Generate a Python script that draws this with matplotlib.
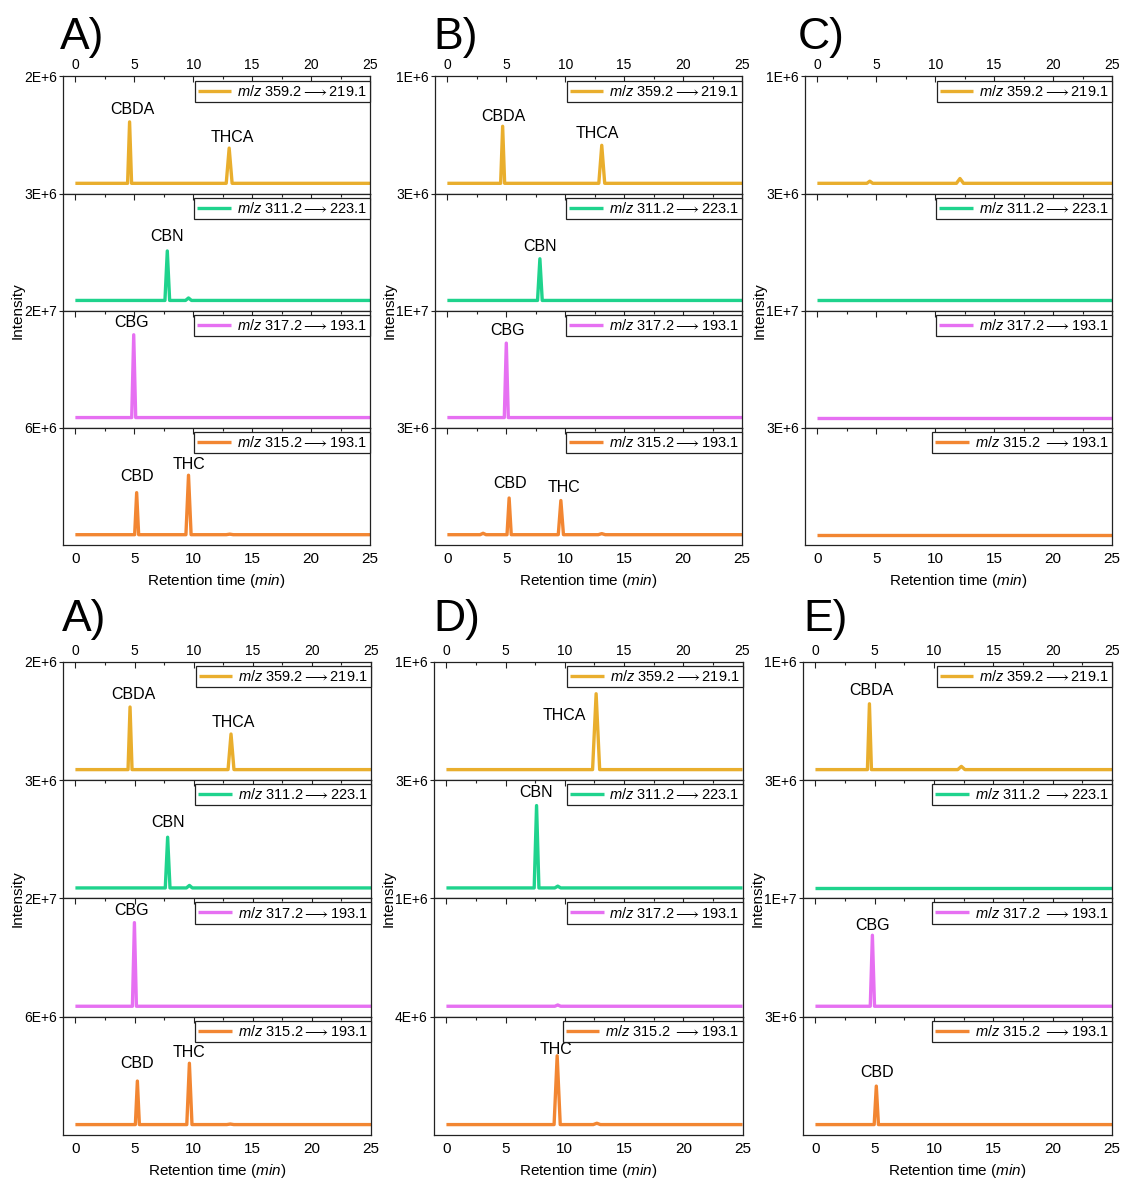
import matplotlib
matplotlib.use("Agg")
import matplotlib.pyplot as plt
from matplotlib.ticker import MultipleLocator

plt.rcParams.update({
    'font.family': ['Liberation Sans', 'DejaVu Sans'],
    'mathtext.fontset': 'custom',
    'mathtext.rm': 'Liberation Sans',
    'mathtext.it': 'Liberation Sans:italic',
    'mathtext.fallback': 'stixsans',
})

W, H = 1122, 1180
LINE_W = 2.4
EDGE = '#222222'

CHANNEL_COLORS = ['#E9AE2D', '#1FD38D', '#E670F2', '#F28632']
PRECURSORS = ['359.2', '311.2', '317.2', '315.2']
PRODUCTS = ['219.1', '223.1', '193.1', '193.1']

PANEL_NAMES = ['A)', 'B)', 'C)', 'A)', 'D)', 'E)']

# full scale of every trace (top of each stacked axis)
Y_TOPS = [
    [2e6, 3e6, 2e7, 6e6],
    [1e6, 3e6, 1e7, 3e6],
    [1e6, 3e6, 1e7, 3e6],
    [2e6, 3e6, 2e7, 6e6],
    [1e6, 3e6, 1e6, 4e6],
    [1e6, 3e6, 1e7, 3e6],
]
Y_TOP_LABELS = [
    ['2E+6', '3E+6', '2E+7', '6E+6'],
    ['1E+6', '3E+6', '1E+7', '3E+6'],
    ['1E+6', '3E+6', '1E+7', '3E+6'],
    ['2E+6', '3E+6', '2E+7', '6E+6'],
    ['1E+6', '3E+6', '1E+6', '4E+6'],
    ['1E+6', '3E+6', '1E+7', '3E+6'],
]

# transitions written with a space before the arrow
SPACED_LEGENDS = [[], [], [3], [], [3], [1, 2, 3]]

# peaks: (channel, retention time min, height, half width min, name)
PEAKS_A = [
    (0, 4.60, 1.15e6, 0.17, 'CBDA'),
    (0, 13.05, 0.66e6, 0.25, 'THCA'),
    (1, 7.80, 1.39e6, 0.20, 'CBN'),
    (1, 9.60, 0.07e6, 0.25, ''),
    (2, 4.95, 1.55e7, 0.17, 'CBG'),
    (3, 5.20, 2.36e6, 0.17, 'CBD'),
    (3, 9.60, 3.34e6, 0.22, 'THC'),
    (3, 13.10, 0.03e6, 0.30, ''),
]
PEAKS_B = [
    (0, 4.69, 0.534e6, 0.17, 'CBDA'),
    (0, 13.10, 0.356e6, 0.25, 'THCA'),
    (1, 7.85, 1.17e6, 0.20, 'CBN'),
    (2, 5.00, 6.97e6, 0.17, 'CBG'),
    (3, 3.03, 0.04e6, 0.25, ''),
    (3, 5.24, 1.03e6, 0.18, 'CBD'),
    (3, 9.63, 0.96e6, 0.22, 'THC'),
    (3, 13.10, 0.03e6, 0.30, ''),
]
PEAKS_C = [
    (0, 4.45, 0.02e6, 0.25, ''),
    (0, 12.10, 0.045e6, 0.30, ''),
]
PEAKS_A2 = [
    (0, 4.62, 1.16e6, 0.17, 'CBDA'),
    (0, 13.16, 0.66e6, 0.25, 'THCA'),
    (1, 7.80, 1.41e6, 0.20, 'CBN'),
    (1, 9.64, 0.07e6, 0.25, ''),
    (2, 4.99, 1.55e7, 0.17, 'CBG'),
    (3, 5.24, 2.42e6, 0.17, 'CBD'),
    (3, 9.64, 3.41e6, 0.22, 'THC'),
    (3, 13.10, 0.03e6, 0.30, ''),
]
PEAKS_D = [
    (0, 12.64, 0.703e6, 0.30, 'THCA'),
    (1, 7.61, 2.29e6, 0.20, 'CBN'),
    (1, 9.40, 0.05e6, 0.25, ''),
    (2, 9.40, 0.012e6, 0.25, ''),
    (3, 9.35, 2.55e6, 0.26, 'THC'),
    (3, 12.70, 0.05e6, 0.30, ''),
]
PEAKS_E = [
    (0, 4.55, 0.61e6, 0.17, 'CBDA'),
    (0, 12.30, 0.03e6, 0.30, ''),
    (2, 4.80, 6.58e6, 0.18, 'CBG'),
    (3, 5.13, 1.07e6, 0.18, 'CBD'),
]
GROUP_PEAKS = [PEAKS_A, PEAKS_B, PEAKS_C, PEAKS_A2, PEAKS_D, PEAKS_E]

# label placement relative to the apex, in pixels: (dx, dy above apex, ha)
LABEL_OFFSETS = [
    {'CBDA': (3, 6), 'THCA': (3, 4), 'CBN': (0, 8), 'CBG': (-2, 6), 'CBD': (0, 10), 'THC': (0, 5)},
    {'CBDA': (1, 4), 'THCA': (-4, 6), 'CBN': (0, 6), 'CBG': (1, 6), 'CBD': (1, 8), 'THC': (3, 7)},
    {},
    {'CBDA': (3, 6), 'THCA': (2, 5), 'CBN': (0, 9), 'CBG': (-3, 6), 'CBD': (0, 11), 'THC': (0, 5)},
    {'THCA': (-10, -28, 'right'), 'CBN': (-1, 7), 'THC': (-1, 0)},
    {'CBDA': (2, 7), 'CBG': (0, 4), 'CBD': (1, 7)},
]

# group frames in pixels: left, right, top, bottom
GROUP_BOXES = [
    (63, 370, 76.5, 545),
    (435, 742, 76.5, 545),
    (805, 1112, 76.5, 545),
    (63, 371, 661.7, 1135),
    (434, 742.5, 661.7, 1135),
    (803, 1112, 661.7, 1135),
]

BASE_FRAC = 0.0965
X_MIN, X_MAX = -1.05, 25


def trace_vertices(peaks, channel):
    xs, ys = [0.0], [0.0]
    for ch, rt, height, half, _ in sorted(peaks, key=lambda p: p[1]):
        if ch != channel:
            continue
        xs += [rt - half, rt, rt + half]
        ys += [0.0, height, 0.0]
    xs.append(X_MAX)
    ys.append(0.0)
    return xs, ys


def legend_label(channel, spaced):
    gap = ' ' if spaced else ''
    return (r'$\it{m/z}$ ' + PRECURSORS[channel] + gap +
            r'$\longrightarrow$' + PRODUCTS[channel])


fig = plt.figure(figsize=(W / 100, H / 100), dpi=100)

for g, (left, right, top, bottom) in enumerate(GROUP_BOXES):
    h_each = (bottom - top) / 4
    for i in range(4):
        y_top_px = top + i * h_each
        ax = fig.add_axes([left / W, 1 - (y_top_px + h_each) / H,
                           (right - left) / W, h_each / H])
        xs, ys = trace_vertices(GROUP_PEAKS[g], i)
        line, = ax.plot(xs, ys, color=CHANNEL_COLORS[i], lw=LINE_W,
                        solid_joinstyle='round', solid_capstyle='butt')

        y_top = Y_TOPS[g][i]
        ax.set_xlim(X_MIN, X_MAX)
        ax.set_ylim(-BASE_FRAC * y_top, y_top)
        ax.set_yticks([y_top])
        ax.set_yticklabels([Y_TOP_LABELS[g][i]])
        ax.tick_params(axis='y', direction='out', length=3, width=0.8,
                       pad=1.5, labelsize=10, color=EDGE)

        ax.xaxis.set_major_locator(MultipleLocator(5))
        ax.xaxis.set_minor_locator(MultipleLocator(2.5))
        ax.tick_params(axis='x', which='both', direction='in', top=True,
                       bottom=False, labeltop=(i == 0), labelbottom=(i == 3),
                       color=EDGE, width=0.8)
        ax.tick_params(axis='x', which='major', length=4)
        ax.tick_params(axis='x', which='minor', length=2.5)
        if i == 0:
            ax.tick_params(axis='x', labelsize=10, pad=3)
        if i == 3:
            ax.tick_params(axis='x', labelsize=11, pad=5)
            ax.set_xlabel(r'Retention time ($\it{min}$)', fontsize=11, labelpad=4)

        for sp in ax.spines.values():
            sp.set_linewidth(0.9)
            sp.set_color(EDGE)

        leg = ax.legend([line], [legend_label(i, i in SPACED_LEGENDS[g])],
                        loc='upper right', bbox_to_anchor=(1, 1 - 4 / h_each),
                        borderaxespad=0, fancybox=False, framealpha=1,
                        edgecolor=EDGE, fontsize=10.5, handlelength=2.3,
                        handletextpad=0.4, borderpad=0.22)
        leg.get_frame().set_linewidth(0.9)

        for ch, rt, height, half, name in GROUP_PEAKS[g]:
            if ch != i or not name:
                continue
            off = LABEL_OFFSETS[g][name]
            ha = off[2] if len(off) > 2 else 'center'
            ax.annotate(name, xy=(rt, height),
                        xytext=(off[0] * 0.72, (off[1] + LINE_W * 0.7) * 0.72),
                        textcoords='offset points', ha=ha, va='baseline',
                        fontsize=11.5)

    fig.text((left - 45) / W, 1 - (top + bottom) / 2 / H, 'Intensity',
             rotation=90, ha='center', va='center', fontsize=11)

# panel letters
LETTER_POS = [(60, 49), (433, 49), (798, 49), (62, 631), (433, 631), (803, 631)]
for name, (px, py) in zip(PANEL_NAMES, LETTER_POS):
    fig.text(px / W, 1 - py / H, name, fontsize=32, ha='left', va='baseline')

fig.savefig('out.png', dpi=100)
